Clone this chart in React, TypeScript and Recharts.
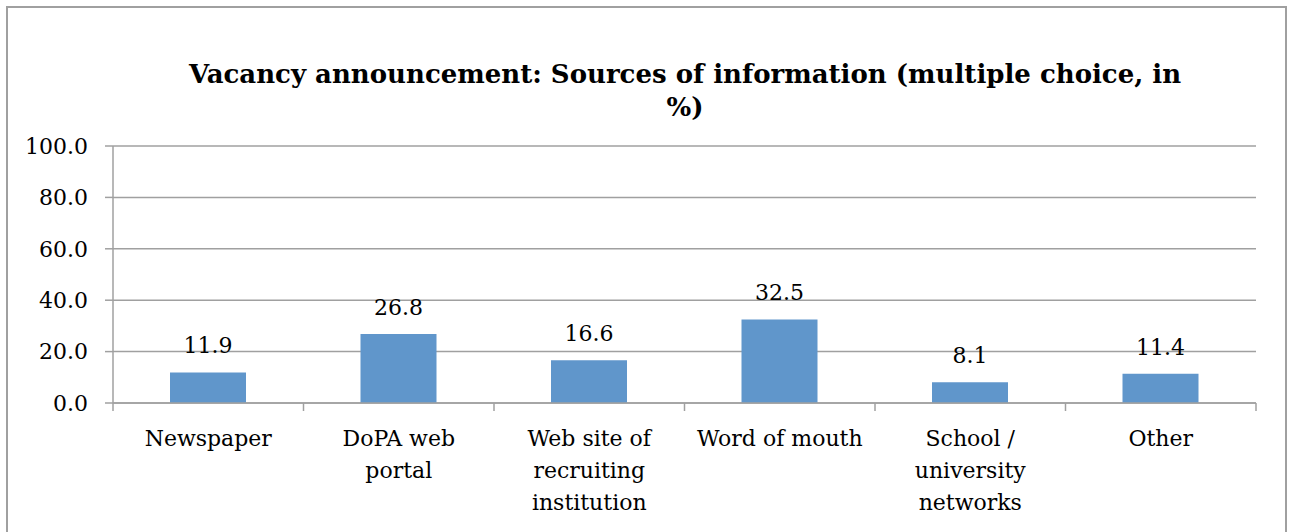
import React from "react";
import {
  BarChart,
  Bar,
  XAxis,
  YAxis,
  CartesianGrid,
  LabelList,
} from "recharts";

// categories and their wrapped tick lines
const categories = [
  "Newspaper",
  "DoPA web portal",
  "Web site of recruiting institution",
  "Word of mouth",
  "School / university networks",
  "Other",
];
const categoryLines = [
  ["Newspaper"],
  ["DoPA web", "portal"],
  ["Web site of", "recruiting", "institution"],
  ["Word of mouth"],
  ["School /", "university", "networks"],
  ["Other"],
];
const values = [11.9, 26.8, 16.6, 32.5, 8.1, 11.4];
const yTicks = [0, 20, 40, 60, 80, 100];

const FONT = "'DejaVu Serif', serif";
const GRID = "#a0a0a0";

const data = categories.map((name, i) => ({ name, value: values[i] }));

// label lines plus tick marks at the category boundaries (Excel style)
const CategoryTick = (props: any) => {
  const { x, y, payload, index, width } = props;
  const idx = categories.indexOf(payload.value);
  const lines = categoryLines[idx] || [payload.value];
  const half = payload.offset || width / categories.length / 2;
  const isLast = index === categories.length - 1;
  return (
    <g>
      <line x1={x - half} x2={x - half} y1={y} y2={y + 8} stroke={GRID} strokeWidth={1.5} />
      {isLast && (
        <line x1={x + half} x2={x + half} y1={y} y2={y + 8} stroke={GRID} strokeWidth={1.5} />
      )}
      <text x={x} y={y + 43} textAnchor="middle" fontFamily={FONT} fontSize={22} fill="#000">
        {lines.map((l, i) => (
          <tspan key={i} x={x} dy={i === 0 ? 0 : 32}>
            {l}
          </tspan>
        ))}
      </text>
    </g>
  );
};

export default function App() {
  return (
    <div style={{ position: "absolute", left: 0, top: 0, width: 1291, height: 532, background: "#fff" }}>
      <div
        style={{
          position: "absolute",
          left: 6,
          top: 6,
          width: 1281,
          height: 540,
          border: `2px solid ${GRID}`,
          boxSizing: "border-box",
        }}
      />
      <div
        style={{
          position: "absolute",
          left: 0,
          width: 1370,
          top: 58,
          textAlign: "center",
          fontFamily: FONT,
          fontWeight: "bold",
          fontSize: 26,
          lineHeight: "33px",
        }}
      >
        Vacancy announcement: Sources of information (multiple choice, in
        <br />
        %)
      </div>
      <BarChart
        width={1291}
        height={532}
        data={data}
        margin={{ top: 146, right: 35, bottom: 128, left: 0 }}
        style={{ position: "absolute", left: 0, top: 0 }}
      >
        <CartesianGrid vertical={false} stroke={GRID} strokeWidth={1.5} />
        <XAxis
          dataKey="name"
          height={1}
          tick={<CategoryTick />}
          tickLine={false}
          tickSize={0}
          tickMargin={0}
          interval={0}
          axisLine={{ stroke: GRID, strokeWidth: 1.5 }}
        />
        <YAxis
          width={113}
          domain={[0, 100]}
          ticks={yTicks}
          tickFormatter={(v: number) => v.toFixed(1)}
          tickSize={8}
          tickMargin={17}
          axisLine={{ stroke: GRID, strokeWidth: 1.5 }}
          tickLine={{ stroke: GRID, strokeWidth: 1.5 }}
          tick={{ fontFamily: FONT, fontSize: 22, fill: "#000" }}
        />
        <Bar dataKey="value" fill="#6096cb" barSize={76} isAnimationActive={false}>
          <LabelList
            dataKey="value"
            position="top"
            offset={19}
            formatter={(v: any) => Number(v).toFixed(1)}
            style={{ fontFamily: FONT, fontSize: 22, fill: "#000" }}
          />
        </Bar>
      </BarChart>
    </div>
  );
}
